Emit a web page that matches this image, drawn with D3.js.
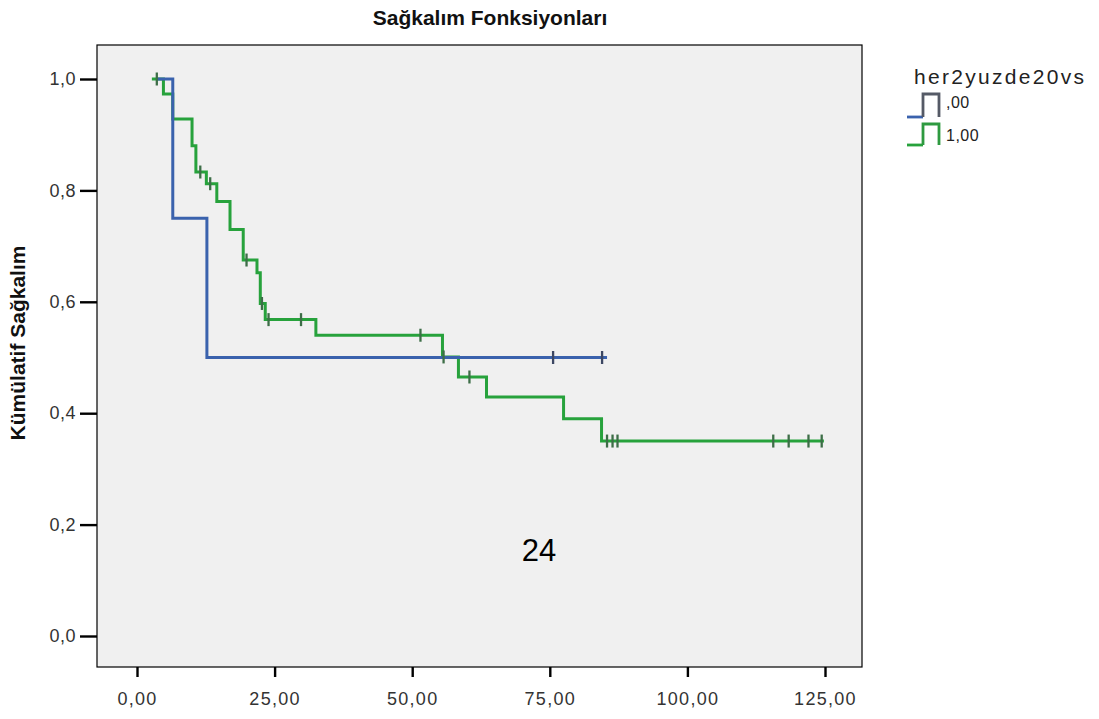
<!DOCTYPE html>
<html>
<head>
<meta charset="utf-8">
<script src="https://cdn.jsdelivr.net/npm/d3@7/dist/d3.min.js"></script>
<style>
  html, body { margin: 0; padding: 0; background: #ffffff; }
  svg { display: block; }
</style>
</head>
<body>
<svg id="chart" width="1099" height="719"></svg>
<script>
// ---------- data ----------
const xTicks = [0, 25, 50, 75, 100, 125];
const xTickLabels = ["0,00", "25,00", "50,00", "75,00", "100,00", "125,00"];
const yTicks = [0, 0.2, 0.4, 0.6, 0.8, 1.0];
const yTickLabels = ["0,0", "0,2", "0,4", "0,6", "0,8", "1,0"];

const groups = [",00", "1,00"];

// group ,00 : step points (time, survival after the step)
const blueTimes = [3.5, 6.5, 12.7, 85.4];
const blueSurv  = [1.0, 0.75, 0.5, 0.5];
const blueCensorTimes = [75.6, 84.5];

// group 1,00
const greenTimes = [2.7, 4.8, 6.5, 10.0, 10.7, 12.6, 14.5, 16.9, 19.3, 21.8, 22.4, 23.3, 32.5, 55.5, 58.4, 63.5, 77.5, 84.4, 124.8];
const greenSurv  = [1.0, 0.973, 0.928, 0.88, 0.833, 0.812, 0.78, 0.73, 0.675, 0.652, 0.597, 0.568, 0.54, 0.501, 0.465, 0.429, 0.39, 0.35, 0.35];
const greenCensorTimes = [3.6, 11.5, 13.3, 19.9, 22.7, 23.9, 29.8, 51.5, 55.7, 60.4, 85.4, 86.4, 87.3, 115.6, 118.4, 122.0, 124.4];

const titleText = "Sağkalım Fonksiyonları";
const yTitleText = "Kümülatif Sağkalım";
const legendTitle = "her2yuzde20vs";
const noteText = "24";

// ---------- layout ----------
const svg = d3.select("#chart");
const plot = { left: 97, right: 862, top: 45, bottom: 667 };
const x = d3.scaleLinear().domain([0, 125]).range([137, 825]);
const y = d3.scaleLinear().domain([0, 1]).range([636, 79]);

const blueColor = "#3a62ad";
const greenColor = "#27a23c";
const font = "'Liberation Sans', Arial, sans-serif";

svg.append("rect").attr("width", 1099).attr("height", 719).attr("fill", "#ffffff");

svg.append("rect")
  .attr("x", plot.left).attr("y", plot.top)
  .attr("width", plot.right - plot.left).attr("height", plot.bottom - plot.top)
  .attr("fill", "#f0f0f0").attr("stroke", "#000").attr("stroke-width", 1.2);

// title
svg.append("text")
  .attr("x", 490).attr("y", 25)
  .attr("text-anchor", "middle")
  .attr("font-family", font).attr("font-weight", "bold").attr("font-size", 21)
  .attr("fill", "#111")
  .text(titleText);

// y axis title
svg.append("text")
  .attr("transform", "translate(25,343) rotate(-90)")
  .attr("text-anchor", "middle")
  .attr("font-family", font).attr("font-weight", "bold").attr("font-size", 21)
  .attr("fill", "#111")
  .text(yTitleText);

// axes
const yAxis = d3.axisLeft(y)
  .tickValues(yTicks)
  .tickSize(17).tickPadding(4)
  .tickFormat((d, i) => yTickLabels[i]);
const gy = svg.append("g").attr("transform", `translate(${plot.left},0)`).call(yAxis);
gy.select(".domain").remove();
gy.selectAll(".tick line").attr("stroke", "#000").attr("stroke-width", 2.4);
gy.selectAll(".tick text")
  .attr("font-family", font).attr("font-size", 18)
  .attr("letter-spacing", "0.5px").attr("fill", "#333");

const xAxis = d3.axisBottom(x)
  .tickValues(xTicks)
  .tickSize(10).tickPadding(15)
  .tickFormat((d, i) => xTickLabels[i]);
const gx = svg.append("g").attr("transform", `translate(0,${plot.bottom})`).call(xAxis);
gx.select(".domain").remove();
gx.selectAll(".tick line").attr("stroke", "#000").attr("stroke-width", 2.4);
gx.selectAll(".tick text")
  .attr("font-family", font).attr("font-size", 18)
  .attr("letter-spacing", "1.3px").attr("fill", "#333");

// curves
const stepLine = d3.line()
  .x(d => x(d[0])).y(d => y(d[1]))
  .curve(d3.curveStepAfter);

function survAt(times, surv, t) {
  let s = surv[0];
  for (let i = 0; i < times.length; i++) { if (times[i] <= t) s = surv[i]; }
  return s;
}

const series = [
  { times: greenTimes, surv: greenSurv, cens: greenCensorTimes, color: greenColor, mark: "#3d6e47" },
  { times: blueTimes, surv: blueSurv, cens: blueCensorTimes, color: blueColor, mark: "#3c4763" }
];

series.forEach(s => {
  svg.append("path")
    .datum(s.times.map((t, i) => [t, s.surv[i]]))
    .attr("d", stepLine)
    .attr("fill", "none")
    .attr("stroke", s.color).attr("stroke-width", 3)
    .attr("stroke-linejoin", "miter");
});

series.forEach(s => {
  svg.append("g").selectAll("line")
    .data(s.cens)
    .join("line")
    .attr("x1", d => x(d)).attr("x2", d => x(d))
    .attr("y1", d => y(survAt(s.times, s.surv, d)) - 6.5)
    .attr("y2", d => y(survAt(s.times, s.surv, d)) + 6.5)
    .attr("stroke", s.mark).attr("stroke-width", 2.3);
});

// note "24"
svg.append("text")
  .attr("x", 539).attr("y", 561)
  .attr("text-anchor", "middle")
  .attr("font-family", font).attr("font-size", 31)
  .attr("fill", "#000")
  .text(noteText);

// legend
svg.append("text")
  .attr("x", 914).attr("y", 84)
  .attr("font-family", font).attr("font-size", 21)
  .attr("letter-spacing", "2.3px")
  .attr("fill", "#222")
  .text(legendTitle);

const legendItems = [
  { label: groups[0], color: blueColor, dark: "#555a66", top: 94, bottom: 117, ty: 108 },
  { label: groups[1], color: greenColor, dark: "#2e9a40", top: 124, bottom: 145, ty: 141 }
];
legendItems.forEach(it => {
  svg.append("path")
    .attr("d", `M907,${it.bottom}H923`)
    .attr("stroke", it.color).attr("stroke-width", 2.8).attr("fill", "none");
  svg.append("path")
    .attr("d", `M923,${it.bottom}V${it.top}H939V${it.bottom}`)
    .attr("stroke", it.dark).attr("stroke-width", 2.8).attr("fill", "none");
  svg.append("text")
    .attr("x", 946).attr("y", it.ty)
    .attr("font-family", font).attr("font-size", 16)
    .attr("letter-spacing", "0.5px")
    .attr("fill", "#222")
    .text(it.label);
});
</script>
</body>
</html>
